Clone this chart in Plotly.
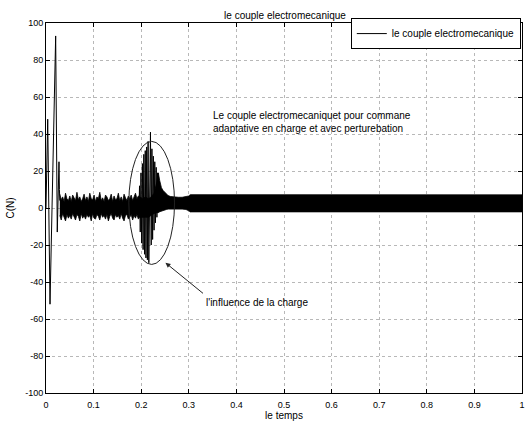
import plotly.graph_objects as go

# ---- data ----
# start-up transient (time, torque)
start_t = [0.0, 0.0036, 0.0084, 0.0203, 0.0237, 0.0255, 0.0265, 0.0273, 0.0282, 0.029]
start_c = [0.0, 48, -52, 93, -13, 14, 8, 25, 10, 4]

# burst when the load is applied
burst_t = [0.195, 0.1965, 0.198, 0.1995, 0.201, 0.2025, 0.204, 0.2055, 0.207, 0.2085,
           0.210, 0.2115, 0.213, 0.2145, 0.216, 0.2195, 0.221, 0.2225, 0.224, 0.2255,
           0.227, 0.2285, 0.230, 0.2315, 0.233, 0.2345, 0.236]
burst_c = [-4, 12, -13, 19, -19, 24, -22.5, 29, -25, 31,
           -27, 33, -28, 36, -29.6, 41, -20, 32, -17, 28,
           -12, 25, -8, 22, -5, 19, -2]

# envelope of the ripple band (upper / lower)
band_t = [0.029, 0.032, 0.035, 0.038, 0.041, 0.044, 0.047, 0.050, 0.053, 0.056,
          0.059, 0.062, 0.065, 0.068, 0.071, 0.074, 0.077, 0.080, 0.083, 0.086,
          0.089, 0.092, 0.095, 0.098, 0.101, 0.104, 0.107, 0.110, 0.113, 0.116,
          0.119, 0.122, 0.125, 0.128, 0.131, 0.134, 0.137, 0.140, 0.143, 0.146,
          0.149, 0.152, 0.155, 0.158, 0.161, 0.164, 0.167, 0.170, 0.173, 0.176,
          0.179, 0.182, 0.185, 0.188, 0.191, 0.194,
          0.197, 0.203, 0.209, 0.215, 0.221, 0.227, 0.233, 0.236, 0.239, 0.2425,
          0.246, 0.2495, 0.253, 0.2565, 0.262, 0.270, 0.278, 0.286, 0.294, 0.300,
          0.303,
          0.31, 0.33, 0.35, 0.37, 0.39, 0.41, 0.43, 0.45, 0.47, 0.49,
          0.51, 0.53, 0.55, 0.57, 0.59, 0.61, 0.63, 0.65, 0.67, 0.69,
          0.71, 0.73, 0.75, 0.77, 0.79, 0.81, 0.83, 0.85, 0.87, 0.89,
          0.91, 0.93, 0.95, 0.97, 0.99, 1.0]
band_hi = [7.5, 4.5, 6, 3.5, 8, 5, 4, 6.5, 3.5, 7,
           5.5, 4, 8.5, 4.5, 6, 3.5, 5, 7.5, 4, 6,
           3.5, 8, 5, 4.5, 7, 3.5, 6, 5, 8.5, 4,
           5.5, 3.5, 7, 6, 4, 5, 7.5, 3.5, 6.5, 4.5,
           5, 8, 4, 6, 3.5, 7.5, 5.5, 4, 6.5, 5,
           7, 4, 6, 8, 5, 6.5,
           6, 5, 6, 5, 6, 8, 14, 19, 14.7, 11,
           9.5, 8.5, 7.5, 6.7, 6.2, 5.9, 5.8, 5.8, 6, 6.5,
           7.2,
           7.2, 7.0, 7.3, 7.1, 7.2, 7.0, 7.3, 7.1, 7.2, 7.0,
           7.2, 7.1, 7.3, 7.0, 7.2, 7.1, 7.2, 7.0, 7.3, 7.1,
           7.2, 7.0, 7.2, 7.1, 7.3, 7.0, 7.2, 7.1, 7.2, 7.0,
           7.3, 7.1, 7.2, 7.0, 7.2, 7.1]
band_lo = [-4, -6.5, -3, -5, -7, -3.5, -5.5, -4, -6, -3,
           -5, -6.5, -3.5, -4.5, -7, -3, -5.5, -4, -6, -3.5,
           -5, -4, -7, -3, -5.5, -6, -3.5, -4.5, -6.5, -3,
           -5, -4, -6, -3.5, -7, -4.5, -3, -5.5, -6.5, -3.5,
           -5, -4, -6, -3, -5.5, -7, -4, -3.5, -6, -5,
           -3.5, -6.5, -4, -5.5, -3.5, -6,
           -5, -5, -5, -5, -4, -3, -2.5, -2.5, -2, -1.5,
           -1.2, -1, -0.8, -0.6, -0.5, -0.5, -0.5, -0.6, -0.8, -1.5,
           -2.1,
           -2.1, -2.2, -2.0, -2.2, -2.1, -2.2, -2.0, -2.1, -2.2, -2.0,
           -2.1, -2.2, -2.1, -2.0, -2.2, -2.1, -2.2, -2.0, -2.1, -2.2,
           -2.0, -2.1, -2.2, -2.1, -2.0, -2.2, -2.1, -2.2, -2.0, -2.1,
           -2.2, -2.0, -2.1, -2.2, -2.1, -2.1]

x_ticks = [0, 0.1, 0.2, 0.3, 0.4, 0.5, 0.6, 0.7, 0.8, 0.9, 1.0]
x_tick_labels = ["0", "0.1", "0.2", "0.3", "0.4", "0.5", "0.6", "0.7", "0.8", "0.9", "1"]
y_ticks = [-100, -80, -60, -40, -20, 0, 20, 40, 60, 80, 100]
y_tick_labels = ["-100", "-80", "-60", "-40", "-20", "0", "20", "40", "60", "80", "100"]

# ellipse around the load transient
ell_x = [0.174, 0.270]
ell_y = [-30.5, 36.0]

FONT = "Liberation Sans, Arial, sans-serif"

fig = go.Figure()

fig.add_trace(go.Scatter(
    x=band_t + band_t[::-1], y=band_hi + band_lo[::-1],
    fill="toself", fillcolor="black", mode="lines",
    line=dict(color="black", width=0.8), showlegend=False, hoverinfo="skip"))

fig.add_trace(go.Scatter(
    x=burst_t, y=burst_c, mode="lines",
    line=dict(color="black", width=1), showlegend=False))

fig.add_trace(go.Scatter(
    x=start_t, y=start_c, mode="lines",
    line=dict(color="black", width=1), name="le couple electromecanique"))

fig.add_shape(type="circle", xref="x", yref="y",
              x0=ell_x[0], x1=ell_x[1], y0=ell_y[0], y1=ell_y[1],
              line=dict(color="#222", width=1))

fig.add_annotation(x=0.251, y=-29.6, ax=0.333, ay=-46.8, axref="x", ayref="y",
                   xref="x", yref="y", text="", showarrow=True,
                   arrowhead=2, arrowsize=1, arrowwidth=1, arrowcolor="#222")
fig.add_annotation(x=0.331, y=-50.9, xref="x", yref="y", xanchor="left", yanchor="middle",
                   text="l'influence de la charge", showarrow=False,
                   font=dict(family=FONT, size=10, color="black"))
fig.add_annotation(x=0.347, y=46.5, xref="x", yref="y", xanchor="left", yanchor="middle",
                   align="left",
                   text="Le couple electromecaniquet pour commane<br>adaptative en charge et avec perturebation",
                   showarrow=False, font=dict(family=FONT, size=10, color="black"))

axis_common = dict(showline=True, linecolor="black", linewidth=1, mirror="ticks",
                   ticks="inside", ticklen=4, tickcolor="black", tickwidth=1,
                   showgrid=True, gridcolor="#b8b8b8", griddash="dot", gridwidth=1,
                   zeroline=False, tickfont=dict(family=FONT, size=9, color="black"))

fig.update_xaxes(range=[0, 1], tickvals=x_ticks, ticktext=x_tick_labels,
                 ticklabelstandoff=3,
                 title=dict(text="le temps", standoff=1,
                            font=dict(family=FONT, size=10, color="black")),
                 **axis_common)
fig.update_yaxes(range=[-100, 100], tickvals=y_ticks, ticktext=y_tick_labels,
                 title=dict(text="C(N)", standoff=8,
                            font=dict(family=FONT, size=10, color="black")),
                 **axis_common)

fig.update_layout(
    width=528, height=421,
    margin=dict(l=46, r=3, t=23, b=22),
    paper_bgcolor="white", plot_bgcolor="white",
    font=dict(family=FONT, size=10, color="black"),
    title=dict(text="le couple electromecanique", x=0.5 + 1 / 479, xref="paper",
               xanchor="center", y=1 - 15 / 421, yref="container", yanchor="middle",
               font=dict(family=FONT, size=10, color="black")),
    legend=dict(x=0.9975, y=1 + 5 / 376, xanchor="right", yanchor="top",
                bordercolor="black", borderwidth=1, bgcolor="white",
                font=dict(family=FONT, size=10, color="black"),
                tracegroupgap=0, itemwidth=30),
    showlegend=True,
)

fig.write_html("out.html")
